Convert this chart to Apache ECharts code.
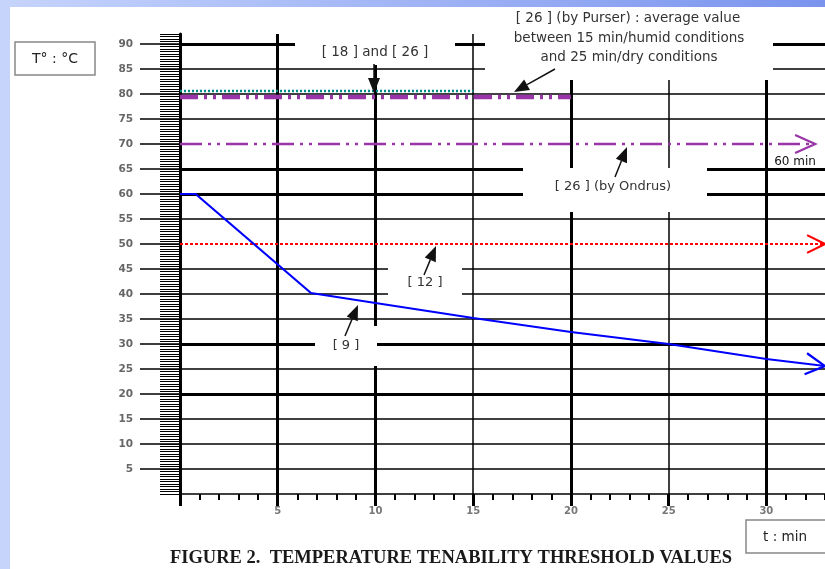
<!DOCTYPE html>
<html><head><meta charset="utf-8">
<script src="https://cdn.jsdelivr.net/npm/echarts@6/dist/echarts.min.js"></script>
<style>
html,body{margin:0;padding:0;background:#fff;}
#wrap{position:relative;width:825px;height:569px;overflow:hidden;background:#fff;}
#topbar{position:absolute;left:0;top:0;width:825px;height:7px;background:linear-gradient(90deg,#c6d4fc,#7a94ee);}
#leftbar{position:absolute;left:0;top:0;width:10px;height:569px;background:#c6d4fc;}
#chart{position:absolute;left:0;top:0;width:825px;height:569px;}
</style></head>
<body><div id="wrap"><div id="topbar"></div><div id="leftbar"></div><div id="chart"></div></div>
<script>
// ---- data ----
const yTickValues = [5,10,15,20,25,30,35,40,45,50,55,60,65,70,75,80,85,90];
const xTickValues = [0,5,10,15,20,25,30];
const xLabelValues = [5,10,15,20,25,30];
const hGridThick = [20,30,60,65,90];
const hGridThin = [5,10,15,25,35,40,45,55,75,80,85];
const vGridThick = [5,10,20,30];
const vGridThin = [15,25];
const ref9T = [0,0.8,6.7,10,15,20,25,30,33];
const ref9V = [60,60,40.2,38.2,35.2,32.4,30,27,25.6];
const ref12T = [0,33];
const ref12V = [50,50];
const ondrusT = [0,32.5];
const ondrusV = [70,70];
const purserT = [0,20];
const purserV = [79.4,79.4];
const ref18T = [0,15];
const ref18V = [80.6,80.6];

const zip = (a,b) => a.map((v,i)=>[v,b[i]]);
const chart = echarts.init(document.getElementById('chart'), null, {renderer:'canvas'});
const PURPLE = '#9a35a8';
const gridLines = [].concat(
  hGridThick.map(v=>({yAxis:v, lineStyle:{width:3}})),
  hGridThin.map(v=>({yAxis:v, lineStyle:{width:1.5}})),
  vGridThick.map(v=>({xAxis:v, lineStyle:{width:3}})),
  vGridThin.map(v=>({xAxis:v, lineStyle:{width:1.5}}))
);
const lineBase = {type:'line', symbol:'none', showSymbol:false, animation:false, silent:true, z:5};
chart.setOption({
  backgroundColor:'transparent',
  animation:false,
  grid:{left:180, top:34, right:0, height:460},
  xAxis:[{type:'value', min:0, max:33, interval:5,
    axisLine:{show:true, lineStyle:{color:'#000', width:1.5}},
    axisTick:{show:true, length:12, customValues:xTickValues, lineStyle:{color:'#000', width:3}},
    axisLabel:{customValues:xLabelValues, margin:12, color:'#777', fontSize:10, fontWeight:'bold', fontFamily:'DejaVu Sans'},
    splitLine:{show:false}},
   {type:'value', min:0, max:33, interval:1, position:'bottom', offset:0,
    axisLine:{show:false},
    axisTick:{show:true, length:6, lineStyle:{color:'#000', width:2}},
    axisLabel:{show:false}, splitLine:{show:false}}],
  yAxis:[{type:'value', min:0, max:92, interval:5,
    axisLine:{show:true, lineStyle:{color:'#000', width:3}},
    axisTick:{show:true, length:40, customValues:yTickValues, lineStyle:{color:'#000', width:1.5}},
    axisLabel:{customValues:yTickValues, margin:47, color:'#666', fontSize:10.5, fontWeight:'bold', fontFamily:'DejaVu Sans'},
    splitLine:{show:false}},
   {type:'value', min:0, max:92, interval:0.5, position:'left', offset:0,
    axisLine:{show:false},
    axisTick:{show:true, length:20, lineStyle:{color:'#000', width:1}},
    axisLabel:{show:false}, splitLine:{show:false}}],
  series:[
    {type:'line', data:[], silent:true, animation:false, z:1,
     markLine:{silent:true, animation:false, symbol:['none','none'], label:{show:false},
       lineStyle:{color:'#000', type:'solid'}, emphasis:{disabled:true}, data:gridLines}},
    Object.assign({}, lineBase, {name:'[18] and [26]', data:zip(ref18T,ref18V), lineStyle:{color:'#008b8b', width:2.5, type:[2,2]}}),
    Object.assign({}, lineBase, {name:'[26] Purser', data:zip(purserT,purserV), lineStyle:{color:PURPLE, width:4.5, type:[18,6,3,6,3,6]}}),
    Object.assign({}, lineBase, {name:'[26] Ondrus', data:zip(ondrusT,ondrusV), lineStyle:{color:PURPLE, width:2.5, type:[22,6,3,6,3,6]}}),
    Object.assign({}, lineBase, {name:'[12]', data:zip(ref12T,ref12V), lineStyle:{color:'#ff0000', width:2, type:[3,2]}}),
    Object.assign({}, lineBase, {name:'[9]', data:zip(ref9T,ref9V), lineStyle:{color:'#0000ff', width:2.2}})
  ]
});

function px(p){ return chart.convertToPixel({xAxisIndex:0, yAxisIndex:0}, p); }
function chevron(tip, from, color, len, ang){
  const dx = tip[0]-from[0], dy = tip[1]-from[1];
  const L = Math.hypot(dx,dy); const ux = dx/L, uy = dy/L;
  const arm = s => { const c=Math.cos(s*ang), sn=Math.sin(s*ang);
    const rx = ux*c - uy*sn, ry = ux*sn + uy*c; return [tip[0]-len*rx, tip[1]-len*ry]; };
  return {type:'polyline', z:60, shape:{points:[arm(1), tip, arm(-1)]}, style:{stroke:color, lineWidth:2.2, fill:null}};
}
function arrow(x1,y1,x2,y2){
  const dx=x2-x1, dy=y2-y1, L=Math.hypot(dx,dy), ux=dx/L, uy=dy/L, h=15, w=6;
  const bx=x2-ux*h, by=y2-uy*h;
  return [
    {type:'line', z:60, shape:{x1:x1,y1:y1,x2:bx,y2:by}, style:{stroke:'#111', lineWidth:1.5}},
    {type:'polygon', z:60, shape:{points:[[x2,y2],[bx-uy*w,by+ux*w],[bx+uy*w,by-ux*w]]}, style:{fill:'#111'}}
  ];
}
const whiteBox = (x,y,w,h)=>({type:'rect', z:50, shape:{x:x,y:y,width:w,height:h}, style:{fill:'#fff'}});
const txt = (x,y,s,size,extra)=>({type:'text', z:61, x:x, y:y, style:Object.assign({text:s, fill:'#333', fontSize:size||13, fontFamily:'DejaVu Sans', align:'center', verticalAlign:'middle'}, extra||{})});

const n = ref9T.length;
const blueTip = px([ref9T[n-1], ref9V[n-1]]), bluePrev = px([ref9T[n-2], ref9V[n-2]]);
const redTip = px([ref12T[1], ref12V[1]]), redFrom = px([ref12T[0], ref12V[0]]);
const purTip = px([ondrusT[1], ondrusV[1]]), purFrom = px([ondrusT[0], ondrusV[0]]);

const elements = [
  whiteBox(295,33,160,32),
  whiteBox(485,8,288,72),
  whiteBox(523,168,184,44),
  whiteBox(388,256,74,44),
  whiteBox(315,326,62,40),
  txt(375,52,'[ 18 ] and [ 26 ]',13.5),
  txt(628,18,'[ 26 ] (by Purser) : average value',13.5),
  txt(629,38,'between 15 min/humid conditions',13.5),
  txt(629,57,'and 25 min/dry conditions',13.5),
  txt(613,187,'[ 26 ] (by Ondrus)',13),
  txt(425,283,'[ 12 ]',13),
  txt(346,346,'[ 9 ]',13),
  txt(795,162,'60 min',12,{fill:'#111'}),
  {type:'rect', z:40, shape:{x:15,y:42,width:80,height:33}, style:{fill:'#fff', stroke:'#888', lineWidth:1.5}},
  txt(55,59,'T° : °C',14,{fill:'#222'}),
  {type:'rect', z:40, shape:{x:746,y:520,width:90,height:33}, style:{fill:'#fff', stroke:'#888', lineWidth:1.5}},
  txt(785,537,'t : min',13.5,{fill:'#222'}),
  txt(451,558,'FIGURE 2.  TEMPERATURE TENABILITY THRESHOLD VALUES',18.5,{fill:'#1a1a1a', fontFamily:'Liberation Serif', fontWeight:'bold'}),
  chevron(blueTip, bluePrev, '#0000ff', 22, 0.5),
  chevron(redTip, redFrom, '#ff0000', 20, 0.46),
  chevron(purTip, purFrom, PURPLE, 22, 0.42)
].concat(
  arrow(374,64,374,93),
  arrow(555,69,514,92),
  arrow(615,177,627,147),
  arrow(424,275,436,246),
  arrow(345,336,358,305)
);
chart.setOption({graphic:{elements:elements}});
</script>
</body></html>
